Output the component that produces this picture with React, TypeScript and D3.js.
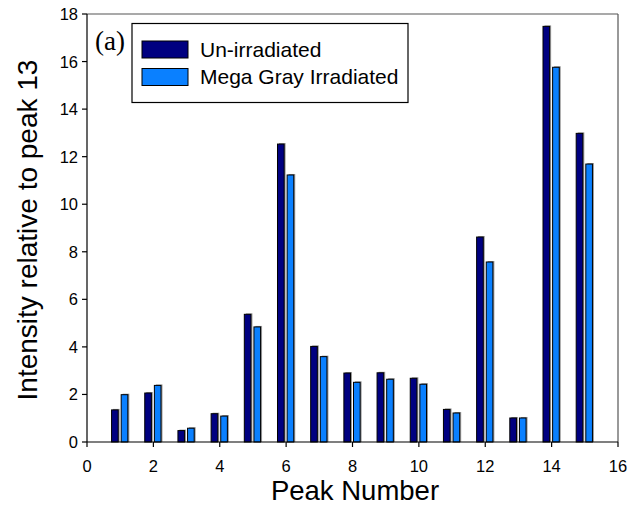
import * as d3 from 'd3';

const peaks = [1, 2, 3, 4, 5, 6, 7, 8, 9, 10, 11, 12, 13, 14, 15];
const unirradiated = [1.35, 2.06, 0.48, 1.19, 5.37, 12.53, 4.02, 2.9, 2.91, 2.68, 1.37, 8.62, 1.01, 17.48, 12.98];
const irradiated = [1.99, 2.38, 0.58, 1.09, 4.84, 11.23, 3.59, 2.51, 2.64, 2.43, 1.22, 7.57, 1.01, 15.76, 11.69];
const xTicks = [0, 2, 4, 6, 8, 10, 12, 14, 16];
const yTicks = [0, 2, 4, 6, 8, 10, 12, 14, 16, 18];
const seriesNames = ['Un-irradiated', 'Mega Gray Irradiated'];
const colors = ['#000080', '#0A80FF'];

const W = 643;
const H = 511;
const left = 87;
const right = 618;
const top = 14;
const bottom = 442;

const App = () => {
  const x = d3.scaleLinear().domain([0, 16]).range([left, right]);
  const y = d3.scaleLinear().domain([0, 18]).range([bottom, top]);
  const barW = x(0.2) - x(0);
  const font = 'Arial, "Liberation Sans", sans-serif';

  const bars = [unirradiated, irradiated].flatMap((series, s) =>
    series.map((v, i) => {
      const px = s === 0 ? x(peaks[i] - 0.26) : x(peaks[i] + 0.03);
      return { key: `${s}-${i}`, x: px, y: y(v), h: y(0) - y(v), color: colors[s] };
    })
  );

  return (
    <svg width={W} height={H} style={{ position: 'absolute', left: 0, top: 0, background: '#fff' }}>
      <rect x={0} y={0} width={W} height={H} fill="#fff" />
      {/* bars with a little grey shadow */}
      {bars.map((b) => (
        <g key={b.key}>
          <rect x={b.x + 1.5} y={b.y - 1} width={barW} height={b.h + 1} fill="#999" />
          <rect x={b.x} y={b.y} width={barW} height={b.h} fill={b.color} stroke="#000" strokeWidth={1} />
        </g>
      ))}
      {/* frame */}
      <line x1={left} x2={right} y1={top} y2={top} stroke="#555" strokeWidth={1.2} />
      <line x1={right} x2={right} y1={top} y2={bottom} stroke="#555" strokeWidth={1.2} />
      <line x1={left} x2={left} y1={top} y2={bottom} stroke="#000" strokeWidth={1.2} />
      <line x1={left} x2={right} y1={bottom} y2={bottom} stroke="#000" strokeWidth={1.2} />
      {/* y axis */}
      {yTicks.map((t) => (
        <g key={`y${t}`}>
          <line x1={left - 5} x2={left} y1={y(t)} y2={y(t)} stroke="#000" strokeWidth={1.2} />
          <text x={left - 9} y={y(t) + 6} textAnchor="end" fontFamily={font} fontSize={16.5}>
            {t}
          </text>
        </g>
      ))}
      {/* x axis */}
      {xTicks.map((t) => (
        <g key={`x${t}`}>
          <line x1={x(t)} x2={x(t)} y1={bottom} y2={bottom + 5} stroke="#000" strokeWidth={1.2} />
          <text x={x(t)} y={bottom + 30} textAnchor="middle" fontFamily={font} fontSize={16.5}>
            {t}
          </text>
        </g>
      ))}
      <text x={355} y={500} textAnchor="middle" fontFamily={font} fontSize={27.5}>
        Peak Number
      </text>
      <text transform="translate(37,230) rotate(-90)" textAnchor="middle" fontFamily={font} fontSize={28}>
        Intensity relative to peak 13
      </text>
      <text x={95} y={50} fontFamily='"Times New Roman", "Liberation Serif", serif' fontSize={27}>
        (a)
      </text>
      {/* legend */}
      <rect x={132} y={23.5} width={276} height={79} fill="#fff" stroke="#000" strokeWidth={1.2} />
      {seriesNames.map((name, i) => (
        <g key={name}>
          <rect x={142} y={41 + i * 27.5} width={46} height={17} fill={colors[i]} stroke="#000" strokeWidth={1} />
          <text x={200} y={56.5 + i * 27.5} fontFamily={font} fontSize={21}>
            {name}
          </text>
        </g>
      ))}
    </svg>
  );
};

export default App;
